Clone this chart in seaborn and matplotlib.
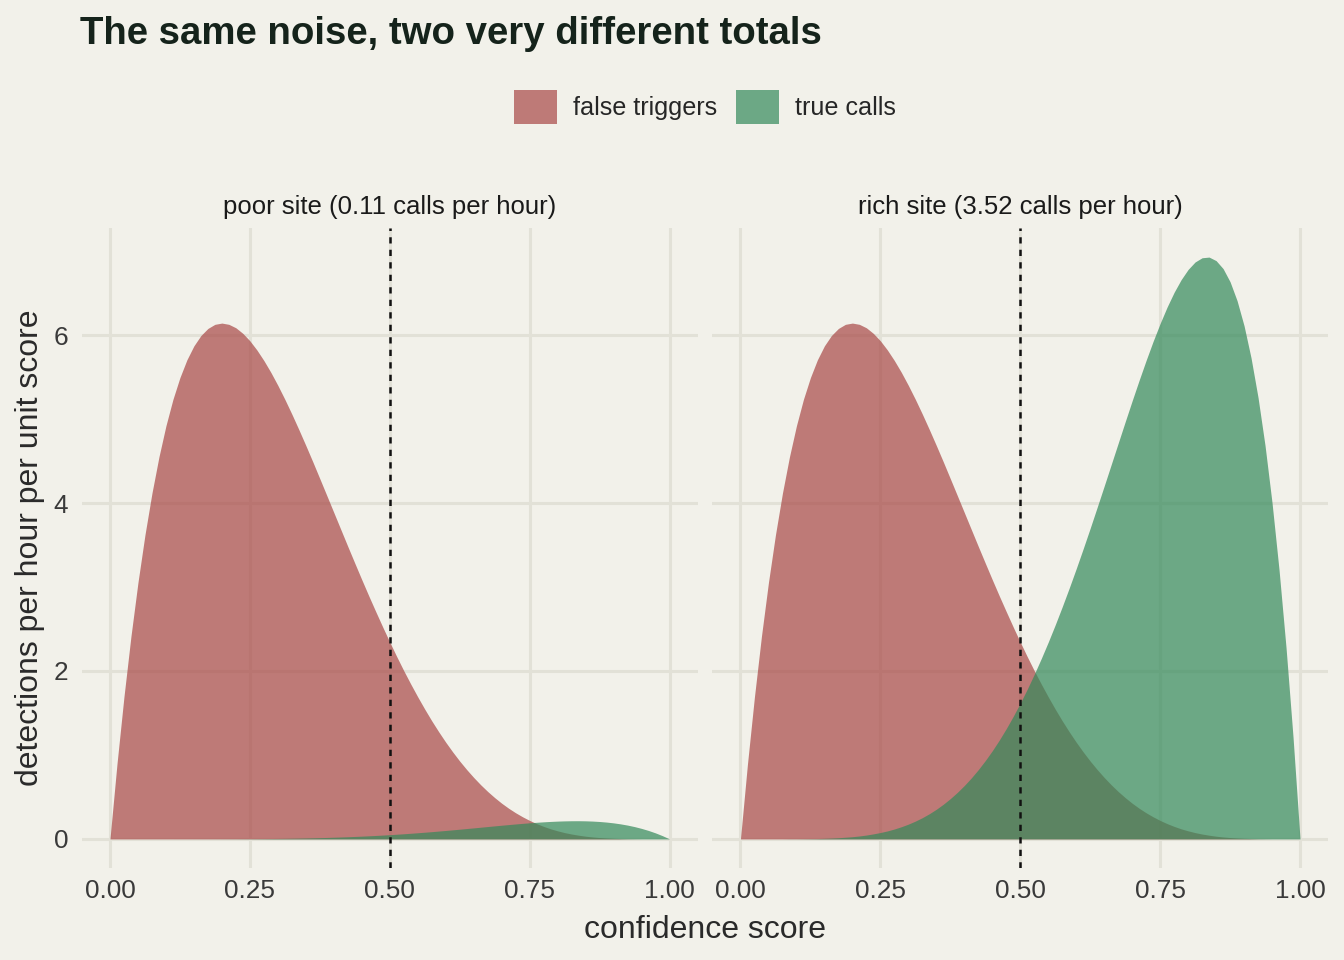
import numpy as np
import pandas as pd
import matplotlib
matplotlib.use("Agg")
import matplotlib.pyplot as plt
from matplotlib.patches import Patch
import seaborn as sns

# ---- data (score step 0.0125) ----
score = [0.0000, 0.0125, 0.0250, 0.0375, 0.0500, 0.0625, 0.0750, 0.0875, 0.1000, 0.1125,
         0.1250, 0.1375, 0.1500, 0.1625, 0.1750, 0.1875, 0.2000, 0.2125, 0.2250, 0.2375,
         0.2500, 0.2625, 0.2750, 0.2875, 0.3000, 0.3125, 0.3250, 0.3375, 0.3500, 0.3625,
         0.3750, 0.3875, 0.4000, 0.4125, 0.4250, 0.4375, 0.4500, 0.4625, 0.4750, 0.4875,
         0.5000, 0.5125, 0.5250, 0.5375, 0.5500, 0.5625, 0.5750, 0.5875, 0.6000, 0.6125,
         0.6250, 0.6375, 0.6500, 0.6625, 0.6750, 0.6875, 0.7000, 0.7125, 0.7250, 0.7375,
         0.7500, 0.7625, 0.7750, 0.7875, 0.8000, 0.8125, 0.8250, 0.8375, 0.8500, 0.8625,
         0.8750, 0.8875, 0.9000, 0.9125, 0.9250, 0.9375, 0.9500, 0.9625, 0.9750, 0.9875,
         1.0000]

false_triggers = [0.000, 0.892, 1.694, 2.414, 3.054, 3.621, 4.118, 4.550, 4.921, 5.235,
                  5.495, 5.707, 5.873, 5.996, 6.080, 6.129, 6.144, 6.129, 6.088, 6.021,
                  5.933, 5.824, 5.698, 5.557, 5.402, 5.236, 5.060, 4.876, 4.686, 4.491,
                  4.291, 4.090, 3.888, 3.686, 3.484, 3.285, 3.088, 2.895, 2.707, 2.523,
                  2.344, 2.171, 2.004, 1.845, 1.692, 1.546, 1.407, 1.276, 1.152, 1.036,
                  0.927, 0.826, 0.732, 0.645, 0.565, 0.492, 0.425, 0.365, 0.311, 0.263,
                  0.220, 0.182, 0.149, 0.120, 0.096, 0.075, 0.058, 0.044, 0.032, 0.023,
                  0.016, 0.011, 0.007, 0.004, 0.002, 0.001, 0.000, 0.000, 0.000, 0.000,
                  0.000]

true_calls_poor = [0.0, 0.0, 0.0, 0.0, 0.0, 0.0, 0.0, 0.0, 0.0, 0.0,
                   0.0001, 0.0001, 0.0002, 0.0003, 0.0004, 0.0006, 0.0008, 0.0011, 0.0014, 0.0019,
                   0.0024, 0.0030, 0.0037, 0.0045, 0.0055, 0.0066, 0.0079, 0.0094, 0.0110, 0.0129,
                   0.0150, 0.0173, 0.0199, 0.0227, 0.0258, 0.0292, 0.0328, 0.0368, 0.0411, 0.0456,
                   0.0505, 0.0558, 0.0613, 0.0671, 0.0733, 0.0797, 0.0864, 0.0934, 0.1006, 0.1080,
                   0.1157, 0.1235, 0.1313, 0.1393, 0.1473, 0.1552, 0.1631, 0.1707, 0.1782, 0.1852,
                   0.1919, 0.1980, 0.2035, 0.2082, 0.2120, 0.2147, 0.2163, 0.2166, 0.2153, 0.2123,
                   0.2074, 0.2003, 0.1910, 0.1790, 0.1643, 0.1464, 0.1251, 0.1002, 0.0713, 0.0380,
                   0.0]

true_calls_rich = [0.000, 0.000, 0.000, 0.000, 0.000, 0.000, 0.000, 0.001, 0.001, 0.002,
                   0.003, 0.004, 0.007, 0.010, 0.014, 0.020, 0.026, 0.035, 0.046, 0.060,
                   0.076, 0.095, 0.118, 0.145, 0.176, 0.212, 0.253, 0.300, 0.353, 0.413,
                   0.480, 0.554, 0.636, 0.726, 0.825, 0.933, 1.050, 1.177, 1.314, 1.461,
                   1.617, 1.784, 1.961, 2.148, 2.344, 2.550, 2.765, 2.988, 3.219, 3.457,
                   3.701, 3.951, 4.203, 4.458, 4.713, 4.968, 5.219, 5.464, 5.701, 5.928,
                   6.140, 6.336, 6.511, 6.661, 6.783, 6.872, 6.922, 6.930, 6.888, 6.793,
                   6.636, 6.411, 6.112, 5.729, 5.257, 4.685, 4.004, 3.206, 2.280, 1.215,
                   0.000]

sites = ["poor site (0.11 calls per hour)", "rich site (3.52 calls per hour)"]
kinds = ["false triggers", "true calls"]
threshold = 0.5
x_ticks = [0.00, 0.25, 0.50, 0.75, 1.00]
x_tick_labels = ["0.00", "0.25", "0.50", "0.75", "1.00"]
y_ticks = [0, 2, 4, 6]

# ---- long table ----
rows = []
for site, tc in zip(sites, [true_calls_poor, true_calls_rich]):
    for s, f, t in zip(score, false_triggers, tc):
        rows.append((site, "false triggers", s, f))
        rows.append((site, "true calls", s, t))
df = pd.DataFrame(rows, columns=["site", "kind", "score", "density"])

# ---- style ----
BG = "#F2F1EA"
GRID = "#E2E1D7"
colors = {"false triggers": "#A84846", "true calls": "#33895A"}
ALPHA = 0.7

sns.set_theme(style="white")
plt.rcParams["font.family"] = ["Liberation Sans", "DejaVu Sans"]
plt.rcParams["figure.facecolor"] = BG
plt.rcParams["axes.facecolor"] = BG

g = sns.FacetGrid(df, col="site", col_order=sites, sharey=True, height=6, aspect=1)
g.figure.set_size_inches(13.44, 9.6)
g.figure.set_dpi(100)


def draw(data, **kw):
    ax = plt.gca()
    for kind in kinds:
        d = data[data["kind"] == kind].sort_values("score")
        ax.fill_between(d["score"], 0, d["density"], color=colors[kind],
                        alpha=ALPHA, lw=0, zorder=2)
    ax.axvline(threshold, color="#111111", lw=1.8, ls=(0, (2.5, 2.5)), zorder=3)


g.map_dataframe(draw)
g.figure.subplots_adjust(left=82 / 1344, right=1328 / 1344,
                         bottom=1 - 868 / 960, top=1 - 228 / 960,
                         wspace=15 / 616)

for ax, site in zip(g.axes.flat, sites):
    ax.set_facecolor(BG)
    ax.set_xlim(-0.05, 1.05)
    ax.set_ylim(-0.3465, 7.2765)
    ax.set_xticks(x_ticks)
    ax.set_xticklabels(x_tick_labels)
    ax.set_yticks(y_ticks)
    ax.grid(True, color=GRID, lw=2.2, zorder=0)
    ax.set_axisbelow(True)
    for sp in ax.spines.values():
        sp.set_visible(False)
    ax.tick_params(axis="both", length=0, labelsize=18.8, colors="#3a3a3a")
    ax.tick_params(axis="x", pad=8)
    ax.tick_params(axis="y", pad=10)
    ax.set_xlabel("")
    ax.set_ylabel("")
    ax.set_title(site, fontsize=18.5, color="#1a1a1a", pad=10)
g.axes.flat[1].tick_params(axis="y", labelleft=False)

fig = g.figure
fig.text(80 / 1344, 1 - 34 / 960, "The same noise, two very different totals",
         fontsize=27.6, fontweight="bold", color="#15231B", ha="left", va="center")
fig.text(705 / 1344, 1 - 930 / 960, "confidence score", fontsize=23,
         color="#2a2a2a", ha="center", va="center")
fig.text(30 / 1344, 1 - 548 / 960, "detections per hour per unit score", fontsize=23,
         color="#2a2a2a", ha="center", va="center", rotation=90)

handles = [Patch(facecolor=colors[k], alpha=ALPHA, edgecolor="none", label=k) for k in kinds]
fig.legend(handles=handles, loc="center", bbox_to_anchor=(705 / 1344, 1 - 107 / 960),
           ncol=2, frameon=False, fontsize=18.1, handlelength=1.7, handleheight=1.7,
           handletextpad=0.65, columnspacing=0.75)

fig.savefig("out.png", dpi=100, facecolor=BG)
